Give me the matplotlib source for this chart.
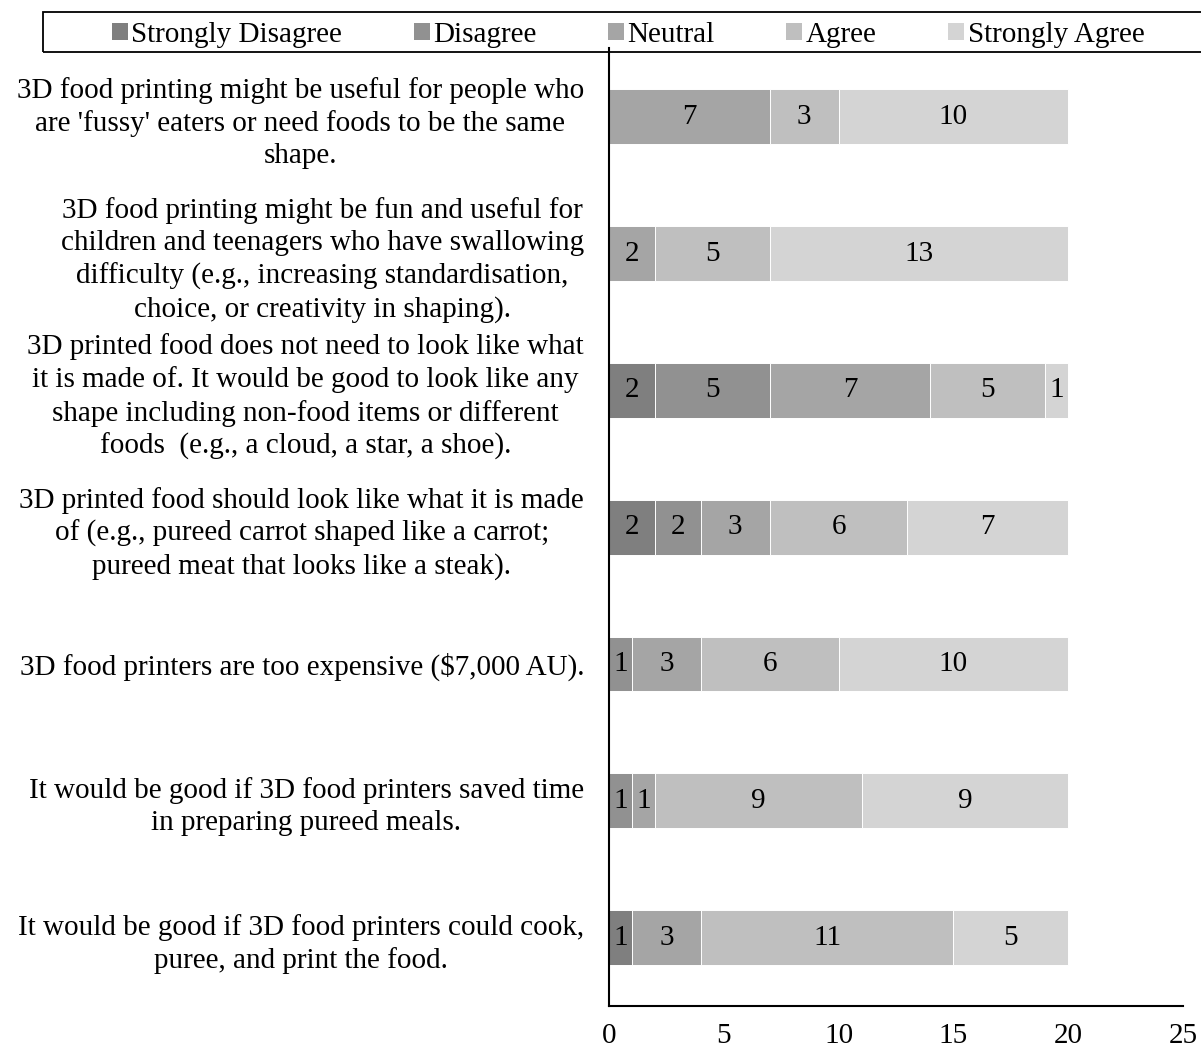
import matplotlib
matplotlib.use("Agg")
import matplotlib.pyplot as plt
from matplotlib.patches import Patch, Rectangle
import numpy as np

plt.rcParams['font.family'] = ['Liberation Serif', 'DejaVu Serif']

statements = [
	"3D food printing might be useful for people who\nare 'fussy' eaters or need foods to be the same\nshape.",
	"3D food printing might be fun and useful for\nchildren and teenagers who have swallowing\ndifficulty (e.g., increasing standardisation,\nchoice, or creativity in shaping).",
	"3D printed food does not need to look like what\nit is made of. It would be good to look like any\nshape including non-food items or different\nfoods  (e.g., a cloud, a star, a shoe).",
	"3D printed food should look like what it is made\nof (e.g., pureed carrot shaped like a carrot;\npureed meat that looks like a steak).",
	"3D food printers are too expensive ($7,000 AU).",
	"It would be good if 3D food printers saved time\nin preparing pureed meals.",
	"It would be good if 3D food printers could cook,\npuree, and print the food.",
]

strongly_disagree = [0, 0, 2, 2, 0, 0, 1]
disagree = [0, 0, 5, 2, 1, 1, 0]
neutral = [7, 2, 7, 3, 3, 1, 3]
agree = [3, 5, 5, 6, 6, 9, 11]
strongly_agree = [10, 13, 1, 7, 10, 9, 5]

levels = ["Strongly Disagree", "Disagree", "Neutral", "Agree", "Strongly Agree"]
colors = ["#7f7f7f", "#919191", "#a5a5a5", "#bfbfbf", "#d4d4d4"]
x_ticks = [0, 5, 10, 15, 20, 25]

FS = 21

fig = plt.figure(figsize=(12.01, 10.51), dpi=100)
ax = fig.add_axes([0.5071, 0.0428, 0.4779, 0.9112])

y = np.arange(len(statements))
left = np.zeros(len(statements))
for name, vals, col in zip(levels, [strongly_disagree, disagree, neutral, agree, strongly_agree], colors):
	bars = ax.barh(y, vals, left=left, height=0.4, color=col, edgecolor='white', linewidth=0.7, label=name)
	ax.bar_label(bars, labels=[str(v) if v else '' for v in vals], label_type='center', fontsize=FS, color='black')
	left += np.array(vals)

ax.set_ylim(-0.5, len(statements) - 0.5)
ax.invert_yaxis()
ax.set_xlim(0, 25)
ax.set_xticks(x_ticks)
ax.set_yticks(y)
ax.set_yticklabels(statements, fontsize=FS)
for t in ax.get_yticklabels():
	t.set_multialignment('center')
	t.set_linespacing(1.3)
ax.tick_params(axis='x', length=0, pad=12, labelsize=FS)
ax.tick_params(axis='y', length=0, pad=18)

for side in ['top', 'right']:
	ax.spines[side].set_visible(False)
for side in ['left', 'bottom']:
	ax.spines[side].set_linewidth(1.5)
	ax.spines[side].set_color('black')

# legend strip across the top
handles = [Patch(facecolor=c, edgecolor='none') for c in colors]
fig.legend(handles, levels, loc='center', bbox_to_anchor=(0.523, 0.967), ncol=5,
	frameon=False, fontsize=FS, handlelength=0.55, handleheight=0.55,
	handletextpad=0.12, columnspacing=2.45)
fig.patches.append(Rectangle((43 / 1201, 1 - 52 / 1051), 1.2, 40 / 1051,
	transform=fig.transFigure, fill=False, edgecolor='black', linewidth=1.3))

fig.savefig('out.png', dpi=100)
